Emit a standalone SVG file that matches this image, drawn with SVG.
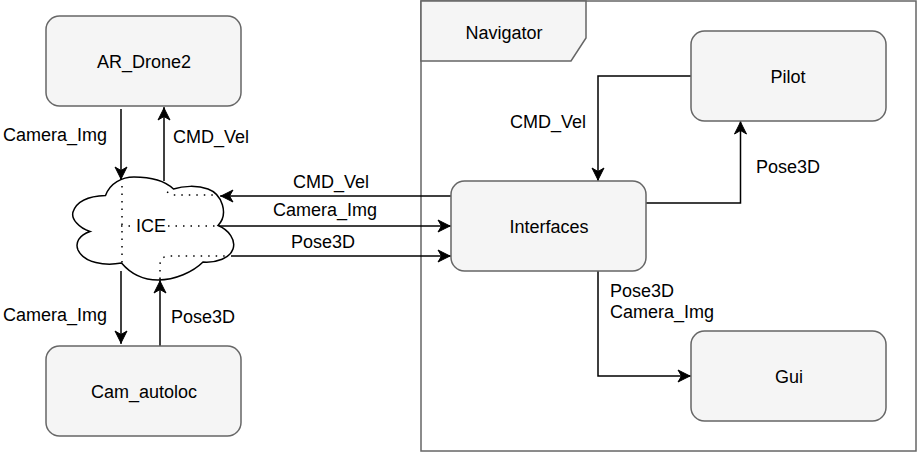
<svg xmlns="http://www.w3.org/2000/svg" width="917" height="452" viewBox="0 0 917 452">
<style>
.n{fill:#f5f5f5;stroke:#666;stroke-width:1.5}
.t{font-family:"Liberation Sans",Arial,sans-serif;font-size:18px;fill:#000}
.m{text-anchor:middle}
.c{fill:none;stroke:#000;stroke-width:1.5}
.d{fill:none;stroke:#000;stroke-width:1.5;stroke-dasharray:1.5 6}
</style>
<defs>
<marker id="a" markerUnits="userSpaceOnUse" markerWidth="24" markerHeight="24" refX="15" refY="12" orient="auto" overflow="visible"><path d="M2 6L14 12L2 18L5.500 12Z" fill="#000" stroke="#000" stroke-width="1"/></marker>
</defs>
<rect width="917" height="452" fill="#fff"/>
<g id="navigator">
<rect x="421" y="1" width="495" height="450" fill="#fff" stroke="#666" stroke-width="1.5"/>
<path class="n" d="M421 1H586V38L571 61H421Z"/>
<text class="t m" x="504" y="39">Navigator</text>
</g>
<g id="connectors">
<path class="c" marker-end="url(#a)" d="M121 109V180"/>
<path class="c" marker-end="url(#a)" d="M164 181V107"/>
<path class="c" marker-end="url(#a)" d="M121 271V344"/>
<path class="c" marker-end="url(#a)" d="M160 346V280"/>
<path class="c" marker-end="url(#a)" d="M451 196H220"/>
<path class="c" marker-end="url(#a)" d="M218 226H451"/>
<path class="c" marker-end="url(#a)" d="M231 256H451"/>
<path class="c" marker-end="url(#a)" d="M691 76H598V181"/>
<path class="c" marker-end="url(#a)" d="M646 203H740.500V121"/>
<path class="c" marker-end="url(#a)" d="M598 271V376H691"/>
</g>
<g id="ar_drone2"><rect class="n" x="46" y="16" width="195" height="90" rx="13.5"/><text class="t m" x="144" y="68">AR_Drone2</text></g>
<g id="cam_autoloc"><rect class="n" x="46" y="346" width="195" height="90" rx="13.5"/><text class="t m" x="144" y="398">Cam_autoloc</text></g>
<g id="pilot"><rect class="n" x="691" y="31" width="195" height="90" rx="13.5"/><text class="t m" x="788" y="83">Pilot</text></g>
<g id="interfaces"><rect class="n" x="451" y="181" width="195" height="90" rx="13.5"/><text class="t m" x="549" y="233">Interfaces</text></g>
<g id="gui"><rect class="n" x="691" y="331" width="195" height="90" rx="13.5"/><text class="t m" x="789" y="383">Gui</text></g>
<g id="ice">
<path fill="#fff" stroke="#000" stroke-width="1.5" d="M105.500 195.500C110 183 122 177 134 177C150 177 165 181 173.500 189C183 186 197 185 208 189C222 194 229 214 218 225.500C229 230 236 240 233 249C230 258 217 263 203 262C193 272 175 280 158 280C143 280 130 273 121.500 263C105 266 84 263 78 250C75 243 79 235 90 231.500C79 228 71 219 73 212C77 200 90 196 105.500 195.500Z"/>
<path class="d" d="M122 186V263"/>
<path class="d" d="M121 226H136"/>
<path class="d" d="M168 226H218"/>
<path class="d" d="M167 192L173 195H217"/>
<path class="d" d="M160 279V265Q160 256 170 256H228"/>
<text class="t m" x="151" y="232">ICE</text>
</g>
<g id="labels">
<text class="t" x="3" y="141">Camera_Img</text>
<text class="t" x="173" y="143">CMD_Vel</text>
<text class="t" x="3" y="321">Camera_Img</text>
<text class="t" x="171" y="323">Pose3D</text>
<text class="t m" x="331" y="188">CMD_Vel</text>
<text class="t m" x="325" y="216">Camera_Img</text>
<text class="t m" x="323" y="248">Pose3D</text>
<text class="t" x="510" y="128">CMD_Vel</text>
<text class="t" x="756" y="173">Pose3D</text>
<text class="t" x="610" y="297">Pose3D</text>
<text class="t" x="610" y="318">Camera_Img</text>
</g>
</svg>
